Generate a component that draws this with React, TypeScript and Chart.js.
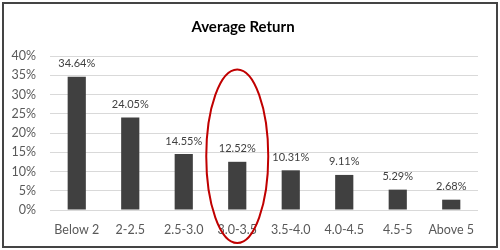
import React, { useEffect, useRef } from "react";
import { Chart, registerables } from "chart.js";

Chart.register(...registerables);

const categories = ["Below 2", "2-2.5", "2.5-3.0", "3.0-3.5", "3.5-4.0", "4.0-4.5", "4.5-5", "Above 5"];
const averageReturn = [34.64, 24.05, 14.55, 12.52, 10.31, 9.11, 5.29, 2.68];
const valueLabels = ["34.64%", "24.05%", "14.55%", "12.52%", "10.31%", "9.11%", "5.29%", "2.68%"];
const yTickStep = 5;
const highlightIndex = 3;
const chartTitle = "Average Return";

const FONT = "Lato, 'Open Sans', sans-serif";

const decorPlugin = {
  id: "decor",
  afterDatasetsDraw(chart: any) {
    const { ctx } = chart;
    const meta = chart.getDatasetMeta(0);
    ctx.save();
    ctx.fillStyle = "#404040";
    ctx.font = `11px ${FONT}`;
    ctx.textAlign = "center";
    ctx.textBaseline = "middle";
    meta.data.forEach((bar: any, i: number) => {
      ctx.fillText(valueLabels[i], bar.x, bar.y - 13);
    });
    const xs = chart.scales.x;
    const ys = chart.scales.y;
    const cx = xs.getPixelForValue(highlightIndex);
    const top = ys.getPixelForValue(36.5);
    const bottom = chart.chartArea.bottom + 33;
    ctx.strokeStyle = "#C00000";
    ctx.lineWidth = 2;
    ctx.beginPath();
    ctx.ellipse(cx, (top + bottom) / 2, 31, (bottom - top) / 2, 0, 0, Math.PI * 2);
    ctx.stroke();
    ctx.strokeStyle = "#444";
    ctx.lineWidth = 2;
    ctx.strokeRect(3, 3, chart.width - 6, chart.height - 6);
    ctx.restore();
  },
};

export default function App() {
  const ref = useRef<HTMLCanvasElement>(null);
  useEffect(() => {
    document.body.style.margin = "0";
    const chart = new Chart(ref.current as HTMLCanvasElement, {
      type: "bar",
      data: {
        labels: categories,
        datasets: [
          {
            data: averageReturn,
            backgroundColor: "#404040",
            barPercentage: 0.34,
            categoryPercentage: 1,
          },
        ],
      },
      options: {
        animation: false,
        responsive: false,
        maintainAspectRatio: false,
        layout: { padding: { left: 8, right: 22, top: 3, bottom: 1 } },
        plugins: {
          legend: { display: false },
          tooltip: { enabled: false },
          title: {
            display: true,
            text: chartTitle,
            color: "#000",
            font: { family: FONT, size: 15, weight: "bold" },
            padding: { top: 15, bottom: 20 },
          },
        },
        scales: {
          x: {
            grid: { display: false, drawTicks: false },
            border: { display: false },
            ticks: { color: "#595959", font: { family: FONT, size: 12.5 }, padding: 12, maxRotation: 0, autoSkip: false },
          },
          y: {
            min: 0,
            max: 40,
            afterFit(scale: any) {
              scale.width = 42;
            },
            grid: { color: "#d9d9d9", lineWidth: 1, drawTicks: false },
            border: { display: false },
            ticks: {
              stepSize: yTickStep,
              autoSkip: false,
              color: "#595959",
              font: { family: FONT, size: 12.5 },
              padding: 14,
              callback: (v: any) => `${v}%`,
            },
          },
        },
      },
      plugins: [decorPlugin],
    });
    return () => chart.destroy();
  }, []);
  return (
    <div style={{ position: "relative", width: 500, height: 250 }}>
      <canvas ref={ref} width={500} height={250} style={{ display: "block", width: 500, height: 250 }} />
    </div>
  );
}
